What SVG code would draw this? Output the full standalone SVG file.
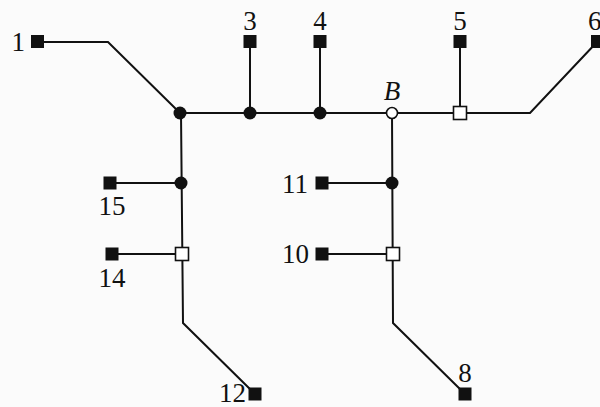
<svg xmlns="http://www.w3.org/2000/svg" width="600" height="407" viewBox="0 0 600 407">
<style>
.e{fill:none;stroke:#111;stroke-width:2}
.t{fill:#111;stroke:none}
.dot{fill:#111}
.o{fill:#fff;stroke:#111;stroke-width:1.6}
text{font-family:"Liberation Serif","DejaVu Serif",serif;font-size:27px;fill:#111}
.m{text-anchor:middle}
.r{text-anchor:end}
</style>
<rect width="600" height="407" fill="#fbfbfb"/>
<g id="connectors">
<polyline class="e" points="44,42 108,42 180,113"/>
<line class="e" x1="250" y1="48" x2="250" y2="113"/>
<line class="e" x1="320" y1="48" x2="320" y2="113"/>
<polyline class="e" points="180,113 530,113 597,42"/>
<line class="e" x1="460" y1="48" x2="460" y2="113"/>
<polyline class="e" points="181,113 183,323 255,394"/>
<line class="e" x1="110" y1="183" x2="181" y2="183"/>
<line class="e" x1="112" y1="254" x2="182" y2="254"/>
<polyline class="e" points="392,113 393,323 465,394"/>
<line class="e" x1="322" y1="183" x2="392" y2="183"/>
<line class="e" x1="322" y1="254" x2="393" y2="254"/>
</g>
<g id="n1"><rect class="t" x="31" y="35" width="13" height="13"/><text class="r" x="25" y="51">1</text></g>
<g id="n3"><rect class="t" x="243.5" y="35" width="13" height="13"/><text class="m" x="250" y="30">3</text></g>
<g id="n4"><rect class="t" x="313.5" y="35" width="13" height="13"/><text class="m" x="320" y="30">4</text></g>
<g id="n5"><rect class="t" x="453.5" y="35" width="13" height="13"/><text class="m" x="460" y="30">5</text></g>
<g id="n6"><rect class="t" x="591" y="35" width="13" height="13"/><text x="588" y="30">6</text></g>
<g id="n15"><rect class="t" x="103.5" y="176.5" width="13" height="13"/><text class="m" x="112" y="215">15</text></g>
<g id="n14"><rect class="t" x="105.5" y="247.5" width="13" height="13"/><text class="m" x="112" y="287">14</text></g>
<g id="n11"><rect class="t" x="315.5" y="176.5" width="13" height="13"/><text class="r" x="308" y="193">11</text></g>
<g id="n10"><rect class="t" x="315.5" y="247.5" width="13" height="13"/><text class="r" x="309" y="263">10</text></g>
<g id="n12"><rect class="t" x="248.5" y="387.5" width="13" height="13"/><text class="r" x="246" y="402">12</text></g>
<g id="n8"><rect class="t" x="458.5" y="387.5" width="13" height="13"/><text class="m" x="465" y="382">8</text></g>
<g id="j1"><circle class="dot" cx="180" cy="113" r="6.5"/></g>
<g id="j3"><circle class="dot" cx="250" cy="113" r="6.5"/></g>
<g id="j4"><circle class="dot" cx="320" cy="113" r="6.5"/></g>
<g id="B"><circle class="o" cx="392" cy="113" r="5.5"/><text class="m" x="392" y="100" font-style="italic">B</text></g>
<g id="j5"><rect class="o" x="453.5" y="106.5" width="13" height="13"/></g>
<g id="j15"><circle class="dot" cx="181" cy="183" r="6.5"/></g>
<g id="j14"><rect class="o" x="175.5" y="247.5" width="13" height="13"/></g>
<g id="j11"><circle class="dot" cx="392" cy="183" r="6.5"/></g>
<g id="j10"><rect class="o" x="386.5" y="247.5" width="13" height="13"/></g>
</svg>
